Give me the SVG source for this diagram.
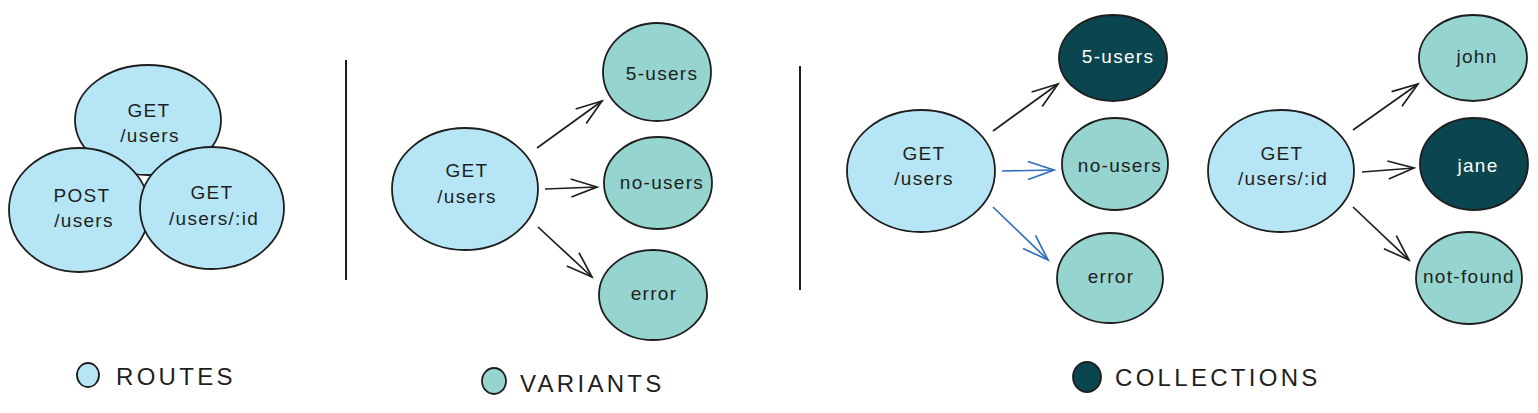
<svg xmlns="http://www.w3.org/2000/svg" width="1538" height="413" viewBox="0 0 1538 413">
<style>
.route{fill:#b6e6f6;stroke:#1e1e1e;stroke-width:1.8}
.variant{fill:#96d4cf;stroke:#1e1e1e;stroke-width:1.8}
.coll{fill:#0b4550;stroke:#1e1e1e;stroke-width:1.8}
.t{font-family:"Liberation Sans",Arial,sans-serif;font-size:19px;fill:#1e1e1e;text-anchor:middle;letter-spacing:1.3px}
.tw{fill:#ffffff}
.leg{font-family:"Liberation Sans",Arial,sans-serif;font-size:24px;fill:#1e1e1e;letter-spacing:3.3px}
.div{stroke:#1e1e1e;stroke-width:2}
.arr{fill:none;stroke:#1e1e1e;stroke-width:1.7;marker-end:url(#ah)}
.arrb{fill:none;stroke:#2f6fbf;stroke-width:1.7;marker-end:url(#ahb)}
</style>
<defs>
<marker id="ah" markerUnits="userSpaceOnUse" markerWidth="40" markerHeight="30" refX="0" refY="0" viewBox="-30 -15 40 30" orient="auto" overflow="visible">
<path d="M-26,-9 L0,0 L-26,9" fill="none" stroke="#1e1e1e" stroke-width="1.7"/>
</marker>
<marker id="ahb" markerUnits="userSpaceOnUse" markerWidth="40" markerHeight="30" refX="0" refY="0" viewBox="-30 -15 40 30" orient="auto" overflow="visible">
<path d="M-26,-9 L0,0 L-26,9" fill="none" stroke="#2f6fbf" stroke-width="1.7"/>
</marker>
</defs>
<rect width="1538" height="413" fill="#ffffff"/>

<g id="dividers">
<line class="div" x1="346" y1="60" x2="346" y2="280"/>
<line class="div" x1="800" y1="66" x2="800" y2="290"/>
</g>

<g id="routes-cluster">
<g id="route-get-users-a">
<ellipse class="route" cx="148" cy="120" rx="73" ry="55"/>
<text class="t" x="149" y="117">GET</text>
<text class="t" x="150" y="142">/users</text>
</g>
<g id="route-post-users">
<ellipse class="route" cx="79" cy="210" rx="70" ry="62"/>
<text class="t" x="82" y="202">POST</text>
<text class="t" x="84" y="227">/users</text>
</g>
<g id="route-get-user-id-a">
<ellipse class="route" cx="212" cy="208" rx="72" ry="61"/>
<text class="t" x="212" y="199">GET</text>
<text class="t" x="214" y="225">/users/:id</text>
</g>
</g>

<g id="connectors">
<path class="arr" d="M537,148 L602,101"/>
<path class="arr" d="M545,189 L597,187"/>
<path class="arr" d="M538,227 L592,277"/>
<path class="arr" d="M993,131 L1058,84"/>
<path class="arrb" d="M1002,171 L1054,170"/>
<path class="arrb" d="M993,207 L1048,260"/>
<path class="arr" d="M1353,130 L1418,84"/>
<path class="arr" d="M1362,172 L1414,168"/>
<path class="arr" d="M1353,207 L1409,260"/>
</g>

<g id="route-get-users-b">
<ellipse class="route" cx="465" cy="189" rx="73" ry="61"/>
<text class="t" x="467" y="177">GET</text>
<text class="t" x="467" y="203">/users</text>
</g>
<g id="variant-5-users-b">
<ellipse class="variant" cx="657" cy="72" rx="54" ry="49"/>
<text class="t" x="662" y="80">5-users</text>
</g>
<g id="variant-no-users-b">
<ellipse class="variant" cx="658" cy="183" rx="54" ry="46"/>
<text class="t" x="662" y="189">no-users</text>
</g>
<g id="variant-error-b">
<ellipse class="variant" cx="653" cy="295" rx="54" ry="45"/>
<text class="t" x="654" y="300">error</text>
</g>

<g id="route-get-users-c">
<ellipse class="route" cx="921" cy="171" rx="74" ry="61"/>
<text class="t" x="924" y="160">GET</text>
<text class="t" x="924" y="185">/users</text>
</g>
<g id="collection-5-users-c">
<ellipse class="coll" cx="1113" cy="58" rx="54" ry="43"/>
<text class="t tw" x="1118" y="63">5-users</text>
</g>
<g id="variant-no-users-c">
<ellipse class="variant" cx="1115" cy="164" rx="53" ry="46"/>
<text class="t" x="1120" y="172">no-users</text>
</g>
<g id="variant-error-c">
<ellipse class="variant" cx="1110" cy="278" rx="53" ry="45"/>
<text class="t" x="1111" y="283">error</text>
</g>

<g id="route-get-user-id-d">
<ellipse class="route" cx="1281" cy="171" rx="73" ry="61"/>
<text class="t" x="1282" y="160">GET</text>
<text class="t" x="1283" y="185">/users/:id</text>
</g>
<g id="variant-john-d">
<ellipse class="variant" cx="1473" cy="58" rx="54" ry="43"/>
<text class="t" x="1477" y="63">john</text>
</g>
<g id="collection-jane-d">
<ellipse class="coll" cx="1474" cy="164" rx="54" ry="46"/>
<text class="t tw" x="1478" y="172">jane</text>
</g>
<g id="variant-not-found-d">
<ellipse class="variant" cx="1469" cy="278" rx="53" ry="46"/>
<text class="t" x="1469" y="283">not-found</text>
</g>

<g id="legend-routes">
<ellipse class="route" cx="88" cy="375" rx="11" ry="12"/>
<text class="leg" x="116" y="385">ROUTES</text>
</g>
<g id="legend-variants">
<ellipse class="variant" cx="494" cy="381" rx="12" ry="13"/>
<text class="leg" x="520" y="392">VARIANTS</text>
</g>
<g id="legend-collections">
<ellipse class="coll" cx="1087" cy="377" rx="14" ry="15"/>
<text class="leg" x="1115" y="386">COLLECTIONS</text>
</g>
</svg>
